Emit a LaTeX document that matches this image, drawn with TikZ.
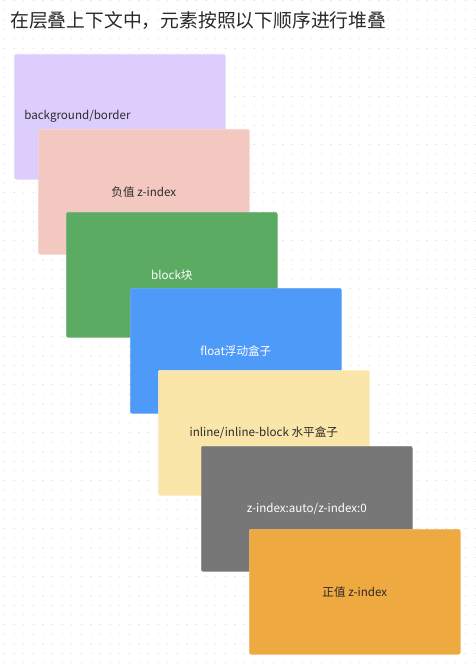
\documentclass[tikz,border=0pt]{standalone}
\usepackage{fontspec}
\setmainfont{Noto Sans CJK SC}
\newfontfamily\cjk{Noto Sans CJK SC}
\definecolor{dotc}{HTML}{CFCFD4}
\definecolor{cpurple}{HTML}{DDCDFC}
\definecolor{cpink}{HTML}{F3C8C1}
\definecolor{cgreen}{HTML}{5BAB63}
\definecolor{cblue}{HTML}{4E9AF9}
\definecolor{cyellow}{HTML}{F9E6A8}
\definecolor{cgray}{HTML}{777777}
\definecolor{corange}{HTML}{EEA941}
\definecolor{darktext}{HTML}{2A2A2A}
\tikzset{
  layerbox/.style={rectangle, rounded corners=2pt, anchor=north west, inner sep=0pt,
    minimum width=211pt, minimum height=125pt, line width=0.6pt,
    font=\cjk\fontsize{11.6}{14}\selectfont, text=darktext},
  whitetext/.style={text=white},
}
\begin{document}
\begin{tikzpicture}[x=1pt,y=-1pt]
\useasboundingbox (0,0) rectangle (475,668);
\fill[white] (0,0) rectangle (475,668);
\foreach \i in {0,...,49}{
  \foreach \j in {0,...,69}{
    \fill[dotc] ({4.6+9.6*\i},{0.5+9.6*\j}) circle (0.55);
  }
}
\node[anchor=west, inner sep=0pt, font=\cjk\fontsize{18.8}{22}\selectfont, text=darktext] (title) at (10,21) {在层叠上下文中，元素按照以下顺序进行堆叠};
\node[layerbox, fill=cpurple, draw=cpurple!70!white, text width=191pt, inner xsep=10pt, align=left] (b1) at (14,54) {background/border};
\node[layerbox, fill=cpink, draw=cpink!70!white] (b2) at (38,129) {负值 z-index};
\node[layerbox, fill=cgreen, draw=cgreen!85!white, whitetext] (b3) at (66,212) {block块};
\node[layerbox, fill=cblue, draw=cblue!85!white, whitetext] (b4) at (130,288) {float浮动盒子};
\node[layerbox, fill=cyellow, draw=cyellow!70!white] (b5) at (158,370) {inline/inline-block 水平盒子};
\node[layerbox, fill=cgray, draw=cgray!85!white, whitetext] (b6) at (201,446) {z-index:auto/z-index:0};
\node[layerbox, fill=corange, draw=corange!80!white] (b7) at (249,529) {正值 z-index};
\end{tikzpicture}
\end{document}
